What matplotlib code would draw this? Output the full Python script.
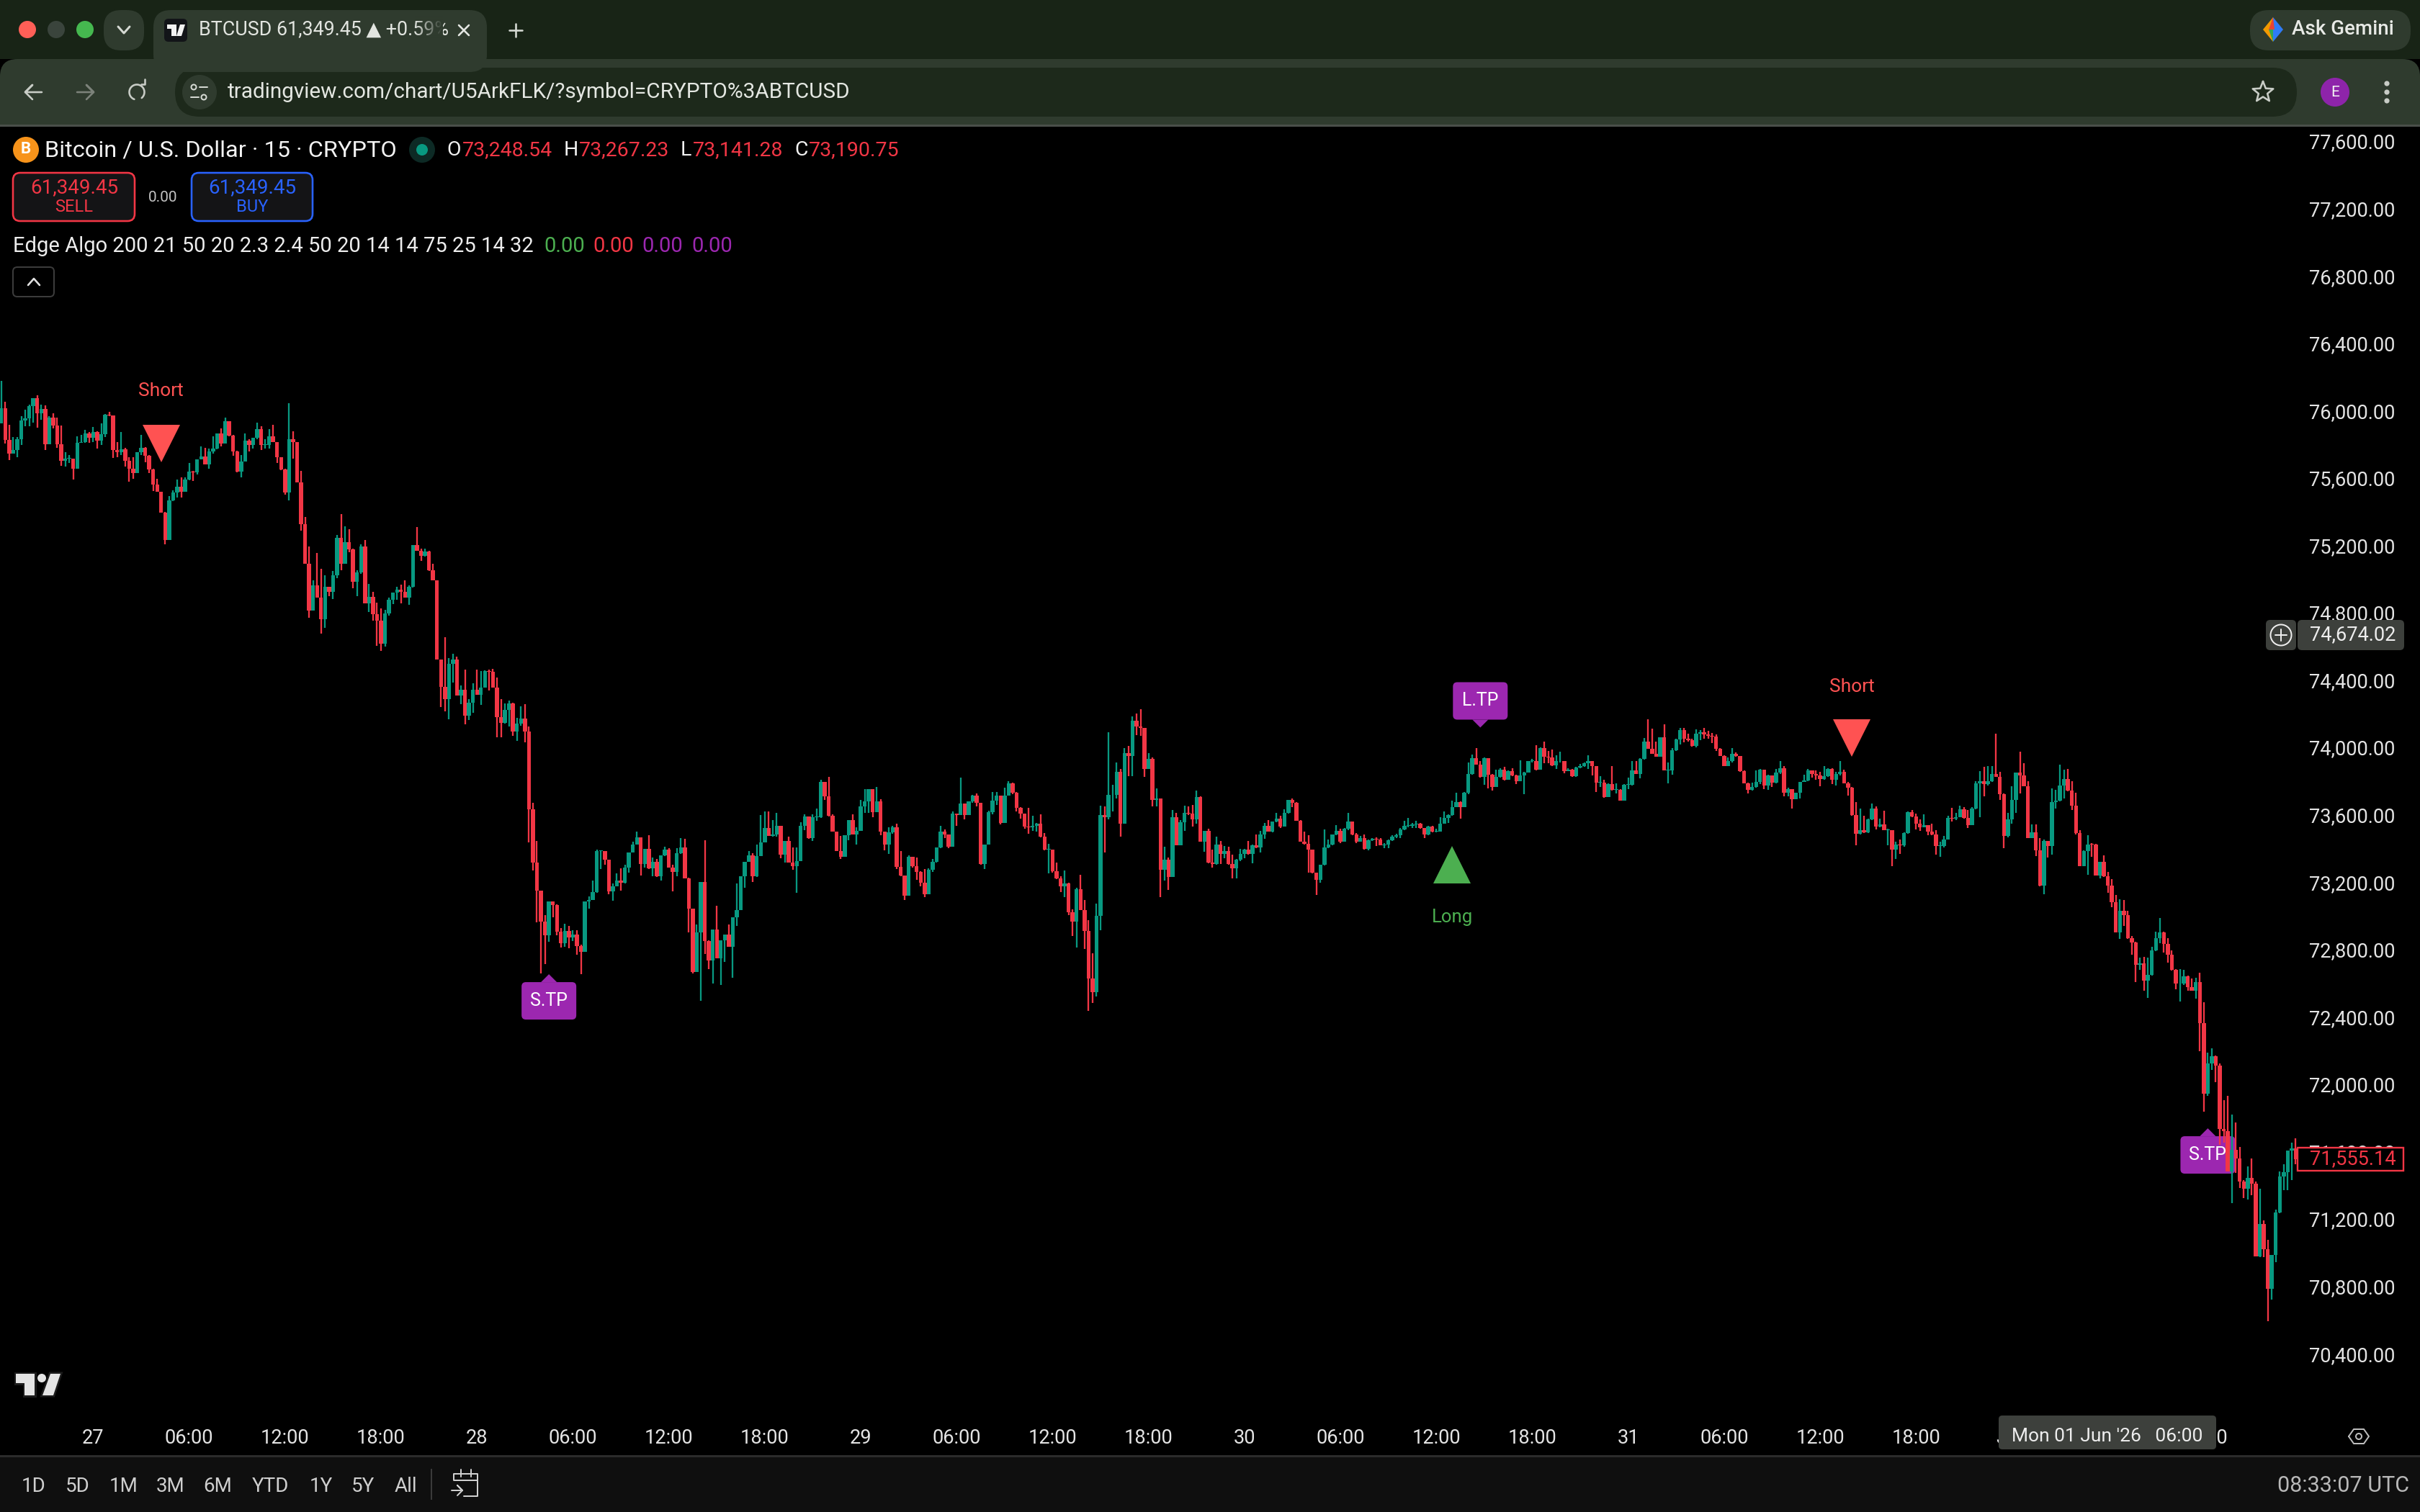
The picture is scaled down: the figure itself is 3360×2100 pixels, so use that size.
import numpy as np
import matplotlib
matplotlib.use("Agg")
import matplotlib.pyplot as plt
from matplotlib.patches import Rectangle, Circle, FancyBboxPatch, Polygon
from matplotlib.transforms import Affine2D, blended_transform_factory

plt.rcParams["font.family"] = ["Roboto", "DejaVu Sans"]

# BTCUSD 15-minute candles; each bar opens at the previous close.
first_open = 75922
closes = [
    76015,75825,75744,75764,75830,75941,75954,76026,76072,75984,
    76011,75801,75958,75911,75801,75701,75713,75716,75656,75808,
    75815,75864,75837,75872,75823,75858,75977,75969,75766,75754,
    75770,75701,75656,75627,75751,75778,75730,75652,75559,75516,
    75395,75231,75465,75513,75548,75519,75592,75637,75635,75710,
    75726,75680,75756,75773,75864,75804,75937,75851,75758,75637,
    75697,75823,75797,75837,75890,75797,75797,75847,75811,75723,
    75649,75513,75830,75811,75573,75327,75089,74814,74961,74889,
    74761,74953,74925,75022,75246,75089,75217,75177,74982,75039,
    75191,74854,74892,74792,74754,74616,74794,74875,74918,74935,
    74925,74889,74953,75203,75167,75139,75164,75053,74992,74522,
    74361,74286,74496,74523,74309,74343,74189,74267,74342,74313,
    74357,74452,74448,74357,74181,74147,74223,74261,74093,74143,
    74170,74093,73631,73316,73148,72967,72883,73084,73064,72906,
    72839,72910,72872,72887,72820,72786,73084,73093,73139,73383,
    73383,73332,73145,73177,73211,73196,73288,73378,73425,73465,
    73307,73397,73284,73322,73236,73358,73393,73288,73259,73370,
    73406,73221,73043,72667,72902,73200,72849,72734,72919,72749,
    72853,72887,72814,72992,73036,73236,73322,73360,73234,73355,
    73437,73523,73473,73484,73536,73364,73444,73316,73293,73326,
    73536,73589,73463,73584,73584,73794,73708,73593,73498,73383,
    73349,73479,73568,73484,73504,73651,73679,73752,73616,73679,
    73498,73421,73494,73527,73292,73240,73120,73349,73294,73259,
    73196,73126,73274,73320,73406,73498,73483,73412,73607,73597,
    73666,73597,73681,73714,73670,73307,73425,73616,73685,73715,
    73551,73715,73786,73732,73642,73606,73528,73525,73536,73548,
    73471,73392,73392,73263,73220,73176,73192,73021,72967,73160,
    73032,72910,72628,72546,73000,73597,73585,73716,73716,73855,
    73548,73966,73950,74158,74125,74114,73871,73932,73688,73696,
    73274,73332,73229,73585,73418,73557,73610,73606,73574,73705,
    73438,73503,73315,73307,73422,73368,73384,73307,73283,73332,
    73368,73394,73368,73417,73405,73482,73536,73500,73561,73577,
    73528,73613,73688,73670,73566,73441,73426,73394,73255,73212,
    73304,73405,73422,73482,73503,73438,73516,73561,73482,73438,
    73462,73397,73449,73459,73454,73418,73425,73449,73471,73479,
    73512,73536,73536,73544,73549,73520,73484,73528,73500,73500,
    73549,73580,73597,73647,73675,73646,73732,73842,73937,73899,
    73827,73934,73839,73765,73826,73868,73806,73860,73835,73801,
    73834,73852,73921,73921,73868,73994,73945,73942,73893,73917,
    73921,73860,73868,73831,73880,73891,73907,73920,73887,73792,
    73792,73705,73783,73747,73747,73685,73777,73777,73862,73841,
    73932,74034,73990,73963,73944,74062,73862,73862,73981,74047,
    74102,74053,74042,74009,74083,74091,74075,74070,74063,73993,
    73949,73891,73919,73960,73947,73857,73788,73746,73764,73797,
    73867,73772,73834,73790,73851,73878,73731,73752,73692,73731,
    73793,73805,73865,73842,73834,73810,73829,73870,73808,73841,
    73854,73785,73761,73597,73487,73510,73494,73572,73636,73530,
    73543,73510,73510,73391,73424,73417,73491,73617,73589,73546,
    73527,73540,73500,73482,73415,73415,73455,73581,73579,73587,
    73633,73581,73538,73636,73788,73801,73783,73798,73841,73824,
    73723,73474,73572,73687,73851,73834,73769,73461,73494,73388,
    73180,73445,73415,73674,73682,73772,73810,73743,73654,73491,
    73294,73383,73425,73424,73240,73319,73237,73180,73082,72902,
    73028,73006,72869,72843,72709,72717,72615,72648,72794,72869,
    72900,72832,72767,72679,72596,72596,72640,72575,72553,72607,
    72363,71942,72123,72165,72112,71735,71720,71484,71609,71558,
    71423,71379,71445,71408,70978,71168,71020,70786,70987,71240,
    71451,71478,71608,71619,71555.14,
]
highs = [
    76175,76051,75915,75844,75844,75965,76004,76036,76072,76089,
    76036,76029,75965,75986,75958,75911,75751,75737,75713,75847,
    75855,75887,75872,75901,75875,75922,75979,75994,75969,75815,
    75872,75780,75723,75723,75751,75855,75781,75737,75654,75595,
    75516,75399,75491,75526,75590,75605,75602,75687,75642,75710,
    75787,75780,75773,75847,75864,75894,75958,75937,75855,75763,
    75737,75864,75830,75837,75927,75905,75830,75890,75915,75811,
    75723,75656,76044,75877,75811,75640,75367,75191,74992,75153,
    75060,75022,74953,75046,75263,75385,75312,75294,75181,75053,
    75206,75231,74970,74925,74861,74825,74818,74889,74918,74953,
    74968,74992,74963,75203,75310,75181,75181,75167,75089,74992,
    74519,74653,74532,74555,74538,74366,74462,74286,74380,74462,
    74452,74456,74462,74468,74414,74286,74261,74277,74265,74175,
    74242,74258,74124,73670,73444,73148,73005,73084,73084,73068,
    72925,72954,72940,72916,72916,72830,73087,73116,73211,73393,
    73387,73383,73332,73192,73250,73282,73303,73378,73441,73498,
    73465,73397,73479,73345,73336,73358,73412,73402,73303,73402,
    73460,73456,73225,73043,72948,73200,73448,72853,72919,73059,
    72853,72887,72948,72992,73192,73236,73322,73383,73370,73421,
    73597,73618,73618,73568,73612,73536,73444,73469,73408,73406,
    73555,73603,73589,73603,73635,73807,73794,73826,73603,73498,
    73475,73479,73568,73603,73527,73689,73752,73752,73752,73765,
    73694,73498,73527,73536,73545,73383,73240,73360,73349,73345,
    73263,73278,73284,73339,73406,73536,73513,73483,73618,73607,
    73819,73666,73681,73717,73727,73670,73425,73622,73733,73733,
    73715,73761,73798,73790,73736,73646,73606,73639,73593,73552,
    73602,73490,73426,73387,73315,73233,73271,73196,73037,73168,
    73242,73094,72972,72779,73073,73654,73651,74092,73777,73909,
    73871,73994,74007,74182,74202,74228,74114,73966,73940,73757,
    73696,73410,73348,73629,73610,73569,73654,73651,73659,73744,
    73708,73503,73515,73394,73471,73446,73413,73410,73364,73337,
    73397,73397,73446,73422,73482,73503,73552,73569,73561,73613,
    73593,73634,73688,73696,73675,73569,73498,73479,73394,73258,
    73304,73512,73454,73482,73539,73516,73520,73610,73561,73490,
    73476,73482,73453,73462,73466,73462,73433,73454,73479,73487,
    73520,73566,73582,73552,73564,73552,73523,73533,73533,73515,
    73585,73618,73602,73683,73732,73678,73737,73912,73957,73997,
    73921,73940,73937,73842,73868,73875,73883,73863,73876,73839,
    73925,73855,73921,73932,74014,74002,74035,73978,73986,73953,
    73973,73921,73875,73871,73883,73901,73912,73952,73919,73882,
    73829,73808,73788,73891,73788,73752,73780,73821,73919,73919,
    73936,74055,74165,74111,74034,74062,74135,73911,73998,74053,
    74116,74116,74080,74053,74107,74102,74116,74099,74086,74075,
    73998,73952,73940,73998,73972,73949,73862,73792,73792,73865,
    73870,73867,73837,73834,73870,73919,73891,73759,73752,73731,
    73793,73837,73870,73865,73862,73854,73887,73875,73877,73854,
    73919,73867,73797,73767,73674,73636,73595,73576,73666,73649,
    73576,73625,73518,73504,73440,73453,73494,73620,73628,73608,
    73572,73603,73538,73546,73510,73440,73474,73592,73641,73612,
    73654,73644,73630,73644,73801,73859,73883,73887,73891,74080,
    73854,73726,73612,73769,73851,73973,73906,73800,73543,73543,
    73461,73453,73445,73756,73747,73898,73867,73870,73801,73731,
    73510,73388,73478,73432,73428,73322,73358,73260,73216,73122,
    73098,73093,73028,72880,72846,72750,72758,72750,72815,72905,
    72987,72905,72869,72793,72684,72684,72679,72644,72629,72634,
    72662,72487,72186,72215,72171,72123,71905,71931,71818,71774,
    71626,71430,71510,71560,71423,71379,71190,71074,70987,71255,
    71480,71523,71608,71654,71680,
]
lows = [
    75922,75804,75706,75744,75723,75797,75908,75908,75930,75898,
    75944,75766,75801,75894,75780,75673,75666,75687,75592,75656,
    75808,75808,75808,75815,75773,75794,75844,75965,75719,75723,
    75737,75666,75576,75595,75627,75737,75694,75630,75523,75516,
    75395,75206,75231,75464,75485,75485,75519,75588,75580,75619,
    75710,75680,75656,75744,75770,75787,75804,75847,75733,75635,
    75605,75697,75758,75773,75830,75766,75776,75776,75811,75690,
    75647,75502,75466,75716,75573,75288,75089,74768,74814,74889,
    74676,74711,74896,74882,75003,75053,75089,75160,74946,74896,
    75032,74854,74804,74754,74604,74573,74597,74782,74849,74875,
    74854,74889,74846,74949,75167,75106,75131,75046,74992,74522,
    74238,74214,74166,74385,74309,74258,74137,74162,74204,74313,
    74252,74357,74338,74357,74061,74061,74143,74124,74067,74038,
    74128,74032,73437,73269,72963,72658,72715,72845,72992,72883,
    72811,72814,72807,72849,72769,72654,72786,73043,73097,73135,
    73278,73303,73129,73091,73177,73150,73192,73255,73374,73421,
    73240,73288,73278,73234,73231,73208,73355,73288,73145,73236,
    73368,73221,72902,72658,72667,72496,72772,72683,72597,72749,
    72591,72725,72814,72633,72940,73034,73168,73322,73202,73231,
    73355,73437,73473,73469,73469,73341,73316,73316,73274,73135,
    73326,73507,73456,73446,73565,73580,73689,73589,73498,73383,
    73339,73349,73450,73484,73421,73504,73612,73612,73584,73616,
    73479,73389,73368,73488,73278,73236,73093,73120,73288,73215,
    73173,73112,73126,73259,73316,73402,73460,73402,73412,73536,
    73597,73574,73597,73670,73651,73303,73278,73421,73603,73660,
    73542,73551,73724,73724,73618,73577,73515,73487,73503,73500,
    73466,73389,73253,73258,73217,73139,73111,73004,72882,72811,
    73032,72805,72435,72481,72522,72914,73377,73574,73618,73695,
    73471,73548,73831,73831,74071,74068,73826,73871,73651,73651,
    73111,73209,73152,73229,73418,73417,73503,73597,73528,73548,
    73438,73381,73312,73286,73302,73307,73340,73302,73222,73222,
    73323,73340,73364,73312,73402,73377,73459,73500,73495,73557,
    73520,73528,73605,73646,73566,73438,73422,73258,73250,73124,
    73197,73299,73402,73417,73479,73433,73438,73508,73479,73433,
    73438,73394,73389,73443,73413,73417,73402,73400,73443,73462,
    73462,73508,73525,73520,73520,73515,73462,73479,73495,73495,
    73500,73548,73552,73593,73646,73577,73646,73724,73839,73896,
    73822,73777,73757,73744,73765,73822,73803,73809,73831,73781,
    73801,73724,73850,73912,73863,73868,73904,73904,73888,73871,
    73912,73847,73860,73827,73826,73876,73885,73870,73834,73736,
    73764,73702,73705,73744,73726,73682,73689,73752,73772,73841,
    73818,73927,73990,73963,73944,73944,73862,73788,73837,73977,
    74017,74030,74034,74006,74001,74042,74053,74053,74026,73980,
    73949,73890,73887,73911,73944,73854,73785,73728,73744,73759,
    73780,73752,73747,73767,73788,73841,73711,73710,73638,73692,
    73698,73800,73800,73821,73808,73769,73808,73826,73783,73775,
    73833,73785,73715,73592,73420,73481,73491,73491,73567,73513,
    73527,73510,73420,73294,73338,73366,73412,73489,73584,73514,
    73505,73527,73478,73478,73363,73350,73407,73453,73559,73567,
    73584,73576,73522,73538,73633,73587,73710,73772,73793,73824,
    73690,73401,73466,73548,73612,73726,73769,73461,73461,73355,
    73175,73126,73347,73363,73636,73679,73698,73740,73630,73481,
    73294,73294,73244,73351,73240,73224,73232,73137,73052,72902,
    72864,72938,72861,72771,72607,72679,72557,72512,72646,72790,
    72839,72782,72723,72673,72564,72492,72590,72553,72553,72509,
    72197,71837,71931,72084,72012,71641,71652,71484,71292,71473,
    71382,71325,71314,71342,70978,70972,70972,70594,70721,70943,
    71233,71371,71371,71430,71523,
]

# Signals printed by the indicator.
short_bars, short_prices = [41, 464], [75804, 74056]
short_text_prices = [76116, 74359]
long_bars, long_prices = [364], [73303]
long_text_prices = [72991]
tp_labels = ["S.TP", "L.TP", "S.TP"]
tp_bars = [138, 371, 553]
tp_prices = [72495, 74276, 71580]
tp_up = [True, False, True]

price_ticks = list(range(70400, 77601, 400))
time_tick_bars = list(range(24, 553, 24))
time_tick_labels = ["27","06:00","12:00","18:00","28","06:00","12:00","18:00",
                    "29","06:00","12:00","18:00","30","06:00","12:00","18:00",
                    "31","06:00","12:00","18:00","Jun","06:00","12:00"]
last_price = closes[-1]
cross_price = 74674.02

UP, DOWN = "#089981", "#F23645"
W, H = 3360, 2100
PX_PER_USD = 0.2339
BAR_PX = 5.55


def pt(px):
    return px * 0.72


fig = plt.figure(figsize=(W / 100, H / 100), dpi=100, facecolor="#000000")

# Price pane: left/right edge and top/bottom are given in picture pixels.
L_, R_, T_, B_ = 0, 3190, 176, 1972
ax = fig.add_axes([L_ / W, 1 - B_ / H, (R_ - L_) / W, (B_ - T_) / H], facecolor="#000000")
ax.set_xlim(1 - 1.8 / BAR_PX, 1 + (R_ - 1.8) / BAR_PX)
ax.set_ylim(77600 - (B_ - 196) / PX_PER_USD, 77600 - (T_ - 196) / PX_PER_USD)
for s in ax.spines.values():
    s.set_visible(False)
ax.yaxis.tick_right()
ax.set_yticks(price_ticks)
ax.set_yticklabels([f"{p:,.2f}" for p in price_ticks], color="#E4E4E4", fontsize=19.6)
ax.set_xticks(time_tick_bars)
ax.set_xticklabels(time_tick_labels, color="#E4E4E4", fontsize=19.6)
ax.tick_params(axis="both", length=0)
ax.tick_params(axis="y", pad=pt(16))
ax.tick_params(axis="x", pad=pt(12))

bars = np.arange(1, len(closes) + 1)
c = np.array(closes, float)
o = np.r_[first_open, c[:-1]]
hi = np.maximum(np.array(highs, float), np.maximum(o, c))
lo = np.minimum(np.array(lows, float), np.minimum(o, c))
cols = np.where(c >= o, UP, DOWN)

# Purple take-profit callouts sit beneath the candles.
to_screen = Affine2D().scale(1, -1).translate(0, H)


def pixel_of(k, p):
    xd, yd = ax.transData.transform((k, p))
    return xd, H - yd


for lab, k, p, up in zip(tp_labels, tp_bars, tp_prices, tp_up):
    xc, yc = pixel_of(k, p)
    box = FancyBboxPatch((xc - 36, yc - 24), 72, 48, boxstyle="round,pad=2,rounding_size=6",
                         fc="#9C27B0", ec="none", transform=to_screen, zorder=2, clip_on=False)
    ax.add_patch(box)
    tip = [(xc - 11, yc - 26), (xc + 11, yc - 26), (xc, yc - 37)] if up else \
          [(xc - 11, yc + 26), (xc + 11, yc + 26), (xc, yc + 37)]
    ax.add_patch(Polygon(tip, fc="#9C27B0", ec="none", transform=to_screen, zorder=2))
    ax.text(xc, yc, lab, color="#FFFFFF", fontsize=18, ha="center", va="center",
            transform=to_screen, zorder=2.5)

ax.vlines(bars, lo, hi, colors=cols, linewidth=pt(2.3), zorder=3)
ax.bar(bars, np.maximum(np.abs(c - o), 4), bottom=np.minimum(o, c), width=5.4 / BAR_PX,
       color=cols, linewidth=0, zorder=4)

ax.plot(short_bars, short_prices, ls="none", marker="v", ms=pt(52), mew=0, color="#FF5252", zorder=5)
ax.plot(long_bars, long_prices, ls="none", marker="^", ms=pt(52), mew=0, color="#4CAF50", zorder=5)
for k, p in zip(short_bars, short_text_prices):
    ax.text(k, p, "Short", color="#FF5252", fontsize=19, ha="center", va="center", zorder=5)
for k, p in zip(long_bars, long_text_prices):
    ax.text(k, p, "Long", color="#4CAF50", fontsize=18.5, ha="center", va="center", zorder=5)

# Last price tag on the scale.
side = blended_transform_factory(ax.transAxes, ax.transData)
tag_h = 32 / PX_PER_USD
ax.add_patch(Rectangle((1.0, last_price - tag_h / 2), 147 / (R_ - L_), tag_h, fc="#000000",
                       ec=DOWN, lw=pt(2.4), transform=side, clip_on=False, zorder=6))
ax.text(1 + 17 / (R_ - L_), last_price, f"{last_price:,.2f}", color=DOWN, fontsize=19.6, va="center",
        ha="left", transform=side, clip_on=False, zorder=7)

# Browser frame and TradingView panels, laid out in pixels from the top-left corner.
ui = fig.add_axes([0, 0, 1, 1], facecolor="none", zorder=10)
ui.set_xlim(0, W)
ui.set_ylim(H, 0)
ui.axis("off")


def rbox(x0, y0, x1, y1, r, fc, ec="none", lw=0, z=2):
    ui.add_patch(FancyBboxPatch((x0 + r, y0 + r), x1 - x0 - 2 * r, y1 - y0 - 2 * r,
                                boxstyle=f"round,pad={r},rounding_size={r}", fc=fc, ec=ec,
                                lw=pt(lw), zorder=z))


def rect(x0, y0, x1, y1, fc, z=1):
    ui.add_patch(Rectangle((x0, y0), x1 - x0, y1 - y0, fc=fc, ec="none", zorder=z))


def txt(x, y, s, color="#E6E6E6", size=19, ha="left", family=None, weight="normal", z=5):
    kw = {"family": family} if family else {}
    return ui.text(x, y, s, color=color, fontsize=size, ha=ha, va="center", weight=weight, zorder=z, **kw)


def stroke(xs, ys, color="#C4C8C2", lw=3, z=5):
    ui.plot(xs, ys, color=color, lw=pt(lw), solid_capstyle="round", solid_joinstyle="round", zorder=z)


STRIP, BAR, FIELD = "#182416", "#2F3B2E", "#1D291B"
rect(0, 0, W, 82, STRIP)
rbox(0, 82, W, 172, 24, BAR, z=1)
rect(0, 120, W, 173, BAR, z=1)
rect(0, 173, W, 176, "#4A4F4A", z=2)
rbox(243, 94, 3189, 162, 34, FIELD)

# Window controls and tab
for x, col in zip([38, 78, 118], ["#FF5F57", "#3A443C", "#45B84F"]):
    ui.add_patch(Circle((x, 41), 12, fc=col, ec="none", zorder=3))
rbox(144, 14, 200, 70, 24, BAR)
stroke([164, 172, 180], [37, 46, 37], "#D5D9D3")
rbox(213, 14, 676, 100, 24, BAR)
rbox(228, 26, 260, 58, 6, "#121418", z=3)
for part in [[(232, 34), (245, 34), (245, 50), (238, 50), (238, 40), (232, 40)],
             [(250, 34), (257, 34), (252, 50), (245, 50)]]:
    ui.add_patch(Polygon(part, fc="#F2F2F2", ec="none", zorder=4))
t = txt(276, 41, "BTCUSD 61,349.45 ▲ +0.59%", "#E2E5E0", 19.4, family=["Roboto", "DejaVu Sans"])
t.set_clip_path(Rectangle((270, 0), 342, 82, transform=ui.transData))
fade = np.zeros((1, 40, 4))
fade[..., :3] = matplotlib.colors.to_rgb(BAR)
fade[..., 3] = np.linspace(0, 1, 40)
ui.imshow(fade, extent=(575, 615, 60, 22), aspect="auto", zorder=6, interpolation="bilinear")
ui.set_xlim(0, W)
ui.set_ylim(H, 0)
stroke([637, 651], [35, 49], "#E4E6E2", 2.6)
stroke([637, 651], [49, 35], "#E4E6E2", 2.6)
stroke([716, 716], [33, 51], "#D5D9D3", 2.6)
stroke([707, 725], [42, 42], "#D5D9D3", 2.6)

# Ask Gemini pill
rbox(3124, 14, 3347, 70, 26, BAR)
for (a, b, col) in [((3142, 41), (3156, 41), "#F29900"), ((3156, 41), (3170, 41), "#2F7BF6")]:
    ui.add_patch(Polygon([a, (3156, 24), b, (3156, 58)], fc=col, ec="none", zorder=4))
ui.add_patch(Polygon([(3150, 41), (3156, 34), (3156, 58)], fc="#34A853", ec="none", zorder=5))
ui.add_patch(Polygon([(3150, 41), (3156, 24), (3158, 41)], fc="#EA4335", ec="none", zorder=5))
txt(3182, 41, "Ask Gemini", "#E8EAE6", 20, weight="medium")

# Navigation row
stroke([58, 35, 45, 35, 45], [128, 128, 118, 128, 138], "#C8CCC6", 2.6)
stroke([107, 130, 120, 130, 120], [128, 128, 118, 128, 138], "#7C827A", 2.6)
theta = np.radians(np.linspace(-50, 250, 40))
stroke(190 + 10.5 * np.cos(theta), 128 - 10.5 * np.sin(theta), "#C8CCC6", 2.6)
stroke([196, 201, 201], [117, 117, 110], "#C8CCC6", 2.6)
ui.add_patch(Circle((277, 128), 24, fc=BAR, ec="none", zorder=3))
ui.add_patch(Circle((269, 121), 3.5, fc="none", ec="#D5D9D3", lw=pt(2), zorder=4))
ui.add_patch(Circle((283, 135), 3.5, fc="none", ec="#D5D9D3", lw=pt(2), zorder=4))
stroke([277, 288], [121, 121], "#D5D9D3", 2)
stroke([265, 276], [135, 135], "#D5D9D3", 2)
txt(316, 128, "tradingview.com/chart/U5ArkFLK/?symbol=CRYPTO%3ABTCUSD", "#E4E7E2", 21.4)
star_a = np.radians(90 + 36 * np.arange(11))
star_r = np.where(np.arange(11) % 2 == 0, 15, 6.5)
stroke(3142 + star_r * np.cos(star_a), 128 - star_r * np.sin(star_a), "#C8CCC6", 2.6)
ui.add_patch(Circle((3242, 128), 20, fc="#8E24AA", ec="none", zorder=3))
txt(3242, 128, "E", "#F2F2F2", 15, ha="center")
for y in (116, 128, 140):
    ui.add_patch(Circle((3314, y), 3.6, fc="#C8CCC6", ec="none", zorder=3))

# Symbol header
ui.add_patch(Circle((36, 208), 18, fc="#F7931A", ec="none", zorder=3))
txt(36, 207, "B", "#FFFFFF", 16, ha="center", weight="bold")
txt(62, 209, "Bitcoin / U.S. Dollar · 15 · CRYPTO", "#F2F2F2", 23.4)
ui.add_patch(Circle((586, 208), 18, fc="#0D2A25", ec="none", zorder=3))
ui.add_patch(Circle((586, 208), 8, fc="#089981", ec="none", zorder=4))
ohlc_letters = ["O", "H", "L", "C"]
ohlc_values = ["73,248.54", "73,267.23", "73,141.28", "73,190.75"]
for x_l, x_v, l_, v_ in zip([620, 783, 945, 1103], [642, 804, 962, 1123], ohlc_letters, ohlc_values):
    txt(x_l, 209, l_, "#F2F2F2", 20.5)
    txt(x_v, 209, v_, DOWN, 20.5)

# Sell / buy buttons
rbox(18, 240, 187, 307, 10, "#141416", ec=DOWN, lw=2.6, z=3)
rbox(266, 240, 434, 307, 10, "#141416", ec="#2962FF", lw=2.6, z=3)
txt(103, 261, "61,349.45", DOWN, 20, ha="center")
txt(103, 288, "SELL", DOWN, 17, ha="center")
txt(350, 261, "61,349.45", "#2962FF", 20, ha="center")
txt(350, 288, "BUY", "#2962FF", 17, ha="center")
txt(226, 274, "0.00", "#C4C4C4", 15, ha="center")

# Indicator line
txt(18, 342, "Edge Algo 200 21 50 20 2.3 2.4 50 20 14 14 75 25 14 32", "#EDEDED", 21)
for x, col in zip([755, 823, 891, 960], ["#4CAF50", "#F23645", "#9C27B0", "#9C27B0"]):
    txt(x, 342, "0.00", col, 21)
rbox(18, 371, 75, 412, 6, "#000000", ec="#3C3C3C", lw=2, z=3)
stroke([39, 47, 55], [396, 387, 396], "#E0E0E0", 2.6)

# Crosshair price tag
rbox(3146, 861, 3188, 903, 6, "#3D403C", z=3)
rbox(3190, 861, 3338, 903, 6, "#3D403C", z=3)
ui.add_patch(Circle((3167, 882), 14.5, fc="none", ec="#EDEDED", lw=pt(2), zorder=4))
stroke([3167, 3167], [874, 890], "#EDEDED", 2)
stroke([3159, 3175], [882, 882], "#EDEDED", 2)
txt(3207, 882, f"{cross_price:,.2f}", "#EDEDED", 19.6)

# Watermark logo
logo_parts = [[(22, 1908), (48, 1908), (48, 1938), (34, 1938), (34, 1921), (22, 1921)],
              [(70, 1908), (84, 1908), (74, 1938), (59, 1938)]]
for part in logo_parts:
    ui.add_patch(Polygon(part, fc="#E4E4E4", ec="#1C1C1C", lw=pt(5), zorder=3, joinstyle="miter"))
    ui.add_patch(Polygon(part, fc="#E4E4E4", ec="none", zorder=3.1))
ui.add_patch(Circle((58, 1914), 6, fc="#E4E4E4", ec="none", zorder=3.1))

# Crosshair time tag and scale settings
rbox(2775, 1966, 3077, 2013, 5, "#3D403C", z=3)
txt(2926, 1995, "Mon 01 Jun '26   06:00", "#EDEDED", 19, ha="center")
hex_x = [3261, 3268, 3282, 3289, 3282, 3268, 3261]
hex_y = [1995, 1985, 1985, 1995, 2005, 2005, 1995]
stroke(hex_x, hex_y, "#BDBDBD", 2)
ui.add_patch(Circle((3275, 1995), 4, fc="none", ec="#BDBDBD", lw=pt(2), zorder=5))

# Bottom toolbar
rect(0, 2021, W, 2024, "#2B2B2B", z=2)
rect(0, 2024, W, H, "#0F0F0F", z=1)
range_labels = ["1D", "5D", "1M", "3M", "6M", "YTD", "1Y", "5Y", "All"]
range_x = [47, 108, 172, 237, 302, 375, 446, 504, 563]
for x, s in zip(range_x, range_labels):
    txt(x, 2064, s, "#CFCFCF", 20, ha="center")
rect(598, 2040, 600, 2083, "#3A3A3A", z=2)
stroke([630, 630, 663, 663, 644], [2055, 2047, 2047, 2078, 2078], "#CFCFCF", 2)
stroke([630, 663], [2056, 2056], "#CFCFCF", 2)
stroke([640, 640], [2041, 2051], "#CFCFCF", 2)
stroke([654, 654], [2041, 2051], "#CFCFCF", 2)
stroke([627, 642, 635, 642, 635], [2070, 2070, 2063, 2070, 2077], "#CFCFCF", 2)
txt(3345, 2063, "08:33:07 UTC", "#B8B8B8", 22, ha="right")

fig.savefig("out.png", dpi=100, facecolor="#000000")
